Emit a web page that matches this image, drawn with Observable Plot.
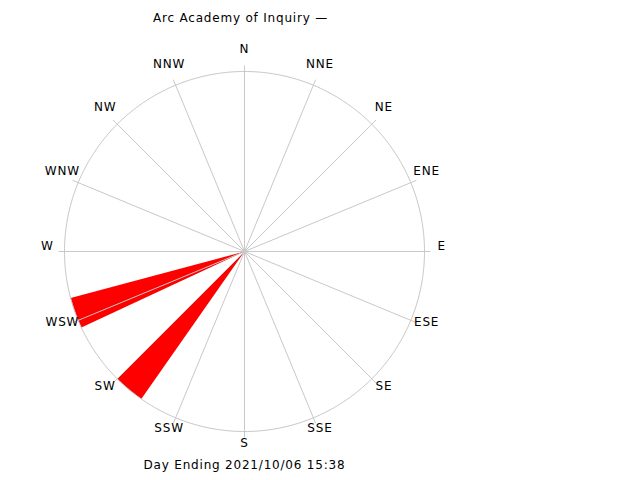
<!DOCTYPE html>
<html>
<head>
<meta charset="utf-8">
<script src="https://cdn.jsdelivr.net/npm/d3@7"></script>
<script src="https://cdn.jsdelivr.net/npm/@observablehq/plot@0.6"></script>
<style>
  html, body { margin: 0; padding: 0; background: #fff; }
  svg text { letter-spacing: 0.8px; }
</style>
</head>
<body>
<div id="chart"></div>
<script>
// ---- data ----
const title = "Arc Academy of Inquiry \u2014";
const caption = "Day Ending 2021/10/06 15:38";
const dirLabels = ["N","NNE","NE","ENE","E","ESE","SE","SSE","S","SSW","SW","WSW","W","WNW","NW","NNW"];
const dirAngles = [0,22.5,45,67.5,90,112.5,135,157.5,180,202.5,225,247.5,270,292.5,315,337.5];
const binCenters = [220, 250];   // wind direction bins (degrees)
const binFreq = [1, 1];          // relative frequency
const binWidth = 10;

// ---- helpers ----
const rad = a => a * Math.PI / 180;
const px = (a, r) => r * Math.sin(rad(a));
const py = (a, r) => r * Math.cos(rad(a));
const maxFreq = d3.max(binFreq);

const dirs = dirLabels.map((label, i) => ({label, angle: dirAngles[i]}));

const wedgePts = [];
binCenters.forEach((c, i) => {
  const r = binFreq[i] / maxFreq;
  const a0 = c - binWidth / 2, a1 = c + binWidth / 2;
  wedgePts.push({bin: i, a: c, r: 0});
  d3.range(a0, a1 + 0.001, 0.5).forEach(a => wedgePts.push({bin: i, a, r}));
});

const circlePts = d3.range(0, 360.5, 1).map(a => ({a, r: 1}));

const chart = Plot.plot({
  width: 640,
  height: 480,
  marginLeft: 64,
  marginRight: 216,
  marginTop: 71,
  marginBottom: 49,
  x: {domain: [-1, 1], axis: null},
  y: {domain: [-1, 1], axis: null},
  style: {fontFamily: "DejaVu Sans, sans-serif", fontSize: "12px", background: "white", color: "black"},
  marks: [
    Plot.line(wedgePts, {x: d => px(d.a, d.r), y: d => py(d.a, d.r), z: "bin", fill: "#ff0000", stroke: "none", curve: "linear-closed"}),
    Plot.line(circlePts, {x: d => px(d.a, d.r), y: d => py(d.a, d.r), stroke: "#c8c8c8", strokeWidth: 1}),
    Plot.link(dirs, {x1: 0, y1: 0, x2: d => px(d.angle, 1.033), y2: d => py(d.angle, 1.033), stroke: "#c8c8c8", strokeWidth: 1}),
    Plot.text(dirs, {x: d => px(d.angle, 1.095), y: d => py(d.angle, 1.095), text: "label", dy: -5, fill: "black", fontSize: 12}),
    Plot.text([title], {frameAnchor: "top", dy: -58, dx: -4, text: d => d, fill: "black", fontSize: 12}),
    Plot.text([caption], {frameAnchor: "bottom", dy: 37, text: d => d, fill: "black", fontSize: 12})
  ]
});
document.getElementById("chart").appendChild(chart);
</script>
</body>
</html>
